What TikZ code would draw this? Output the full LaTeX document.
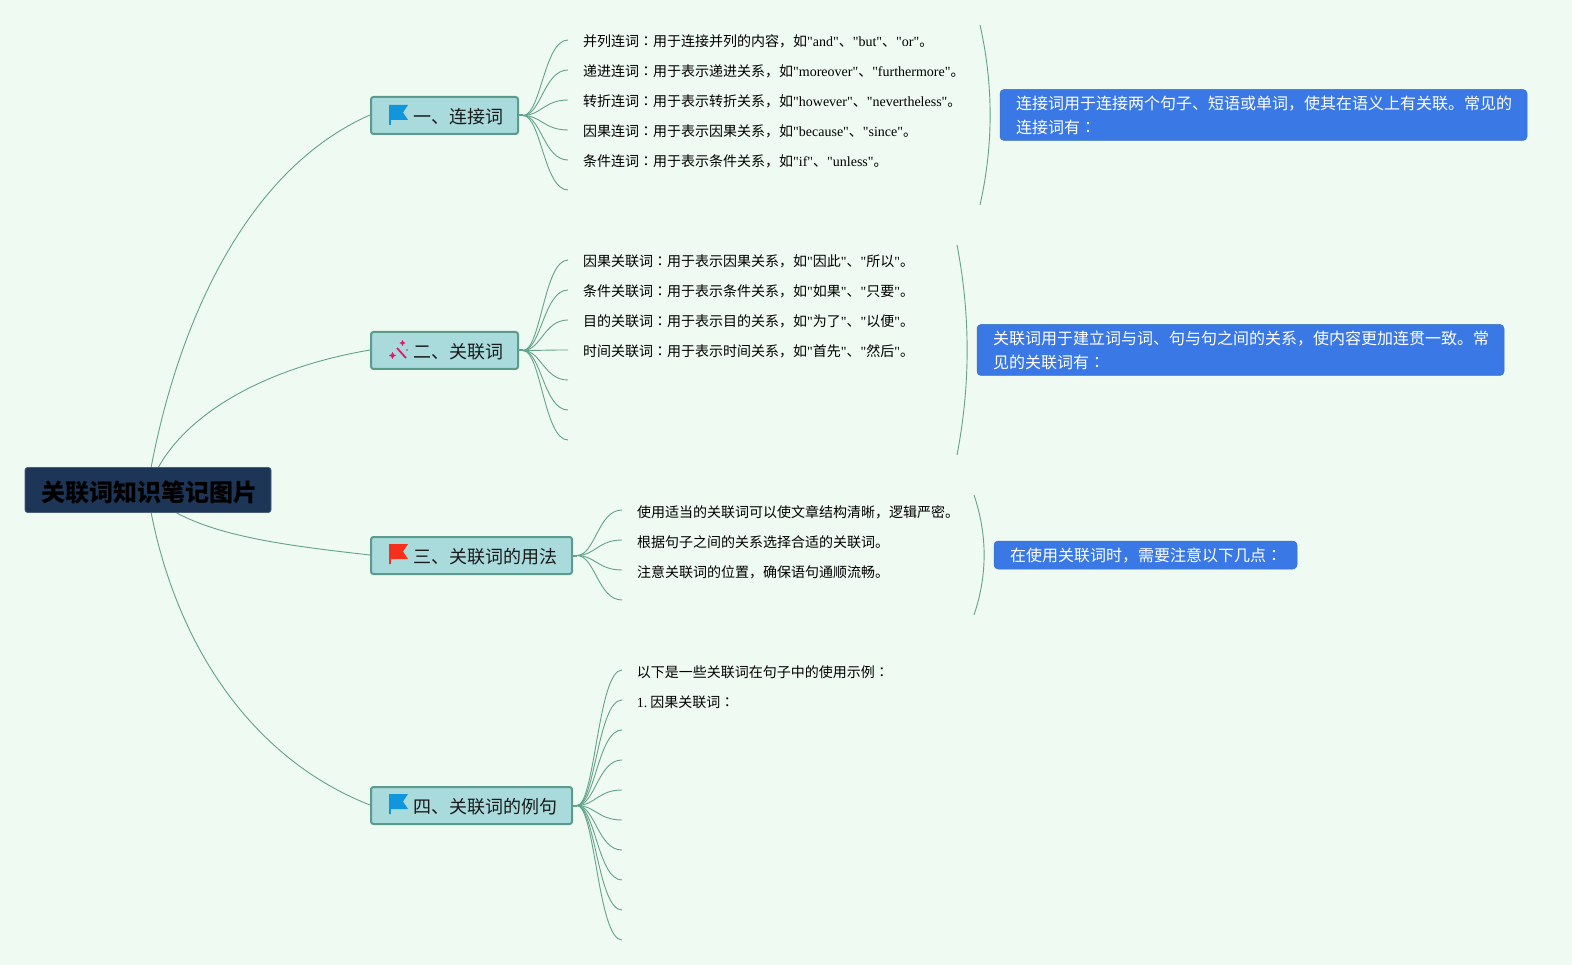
\documentclass[tikz,border=0pt]{standalone}
\usepackage{fontspec}
\setmainfont{Noto Sans CJK SC}
\newfontfamily\latf{Liberation Serif}
\newfontfamily\jpf{Noto Sans CJK JP}
\newcommand{\lat}[1]{{\latf #1}}
\newcommand{\cln}{{\jpf ：}}
\newcommand{\dn}[2]{\raisebox{-#1pt}[\height][\depth]{#2}}
\usetikzlibrary{calc}
\definecolor{bgc}{HTML}{EFFAF2}
\definecolor{linkc}{HTML}{64A28B}
\definecolor{topicf}{HTML}{A9DBDC}
\definecolor{topicd}{HTML}{5B9B8B}
\definecolor{rootf}{HTML}{1D3557}
\definecolor{callf}{HTML}{3A78E6}
\definecolor{flagb}{HTML}{1296DB}
\definecolor{flagr}{HTML}{F5301C}
\definecolor{wand}{HTML}{D81E6A}
\tikzset{
  x=1pt,y=-1pt,
  link/.style={draw=linkc,line width=.9pt},
  hubline/.style={draw=linkc,line width=2pt},
  rootbox/.style={fill=rootf,draw=rootf!80!white,line width=.6pt,rounded corners=2.5pt,minimum width=246pt,minimum height=45pt,inner sep=0pt,outer sep=0pt,font=\fontsize{24}{28}\selectfont\bfseries,text=black},
  topicbox/.style={fill=topicf,draw=topicd,line width=2pt,rounded corners=2.5pt,minimum height=37pt,inner xsep=15pt,inner ysep=0pt,outer sep=0pt,align=right,font=\fontsize{18}{22}\selectfont,text=black!90},
  leaf/.style={anchor=west,inner sep=0pt,font=\fontsize{14}{18}\selectfont,text=black},
  callout/.style={fill=callf,draw=callf!85!black!80!topicd,line width=.5pt,rounded corners=4pt,inner xsep=16pt,inner ysep=0pt,outer sep=0pt,align=left,text=white,font=\fontsize{16}{24}\selectfont},
}
\newcommand{\branch}[2]{\draw[link] (#1) .. controls ($(#1)+(18,0)$) and ($(#2)+(-24,0)$) .. (#2);}
\newcommand{\flag}[3]{\fill[#1] (#2,#3) -- ++(19,0) -- ++(-5,7.5) -- ++(5,7.5) -- ++(-17.2,0) -- ++(0,5) -- ++(-1.8,0) -- cycle;}
\newcommand{\spark}[3]{\fill[wand] (#1,#2-#3) -- (#1+.35*#3,#2-.35*#3) -- (#1+#3,#2) -- (#1+.35*#3,#2+.35*#3) -- (#1,#2+#3) -- (#1-.35*#3,#2+.35*#3) -- (#1-#3,#2) -- (#1-.35*#3,#2-.35*#3) -- cycle;}
\begin{document}
\begin{tikzpicture}
\fill[bgc] (0,0) rectangle (1572,965);
\useasboundingbox (0,0) rectangle (1572,965);

\coordinate (ra) at (151,468);
\coordinate (rb) at (158,468);
\coordinate (rc) at (175,512);
\coordinate (rd) at (151,512);

\draw[link] (ra) .. controls (178,325) and (245,170) .. (370,115);
\draw[link] (rb) .. controls (190,410) and (270,367) .. (370,350);
\draw[link] (rc) .. controls (220,537) and (290,546) .. (370,555);
\draw[link] (rd) .. controls (178,650) and (255,760) .. (370,805);

\node[rootbox] (root) at (148,490) {\hspace*{3pt}\dn{2.5}{关联词知识笔记图片}};

\node[topicbox,text width=117pt] (t1) at (444.5,115.5) {\dn{.8}{一、连接词}};
\node[topicbox,text width=117pt] (t2) at (444.5,350.5) {\dn{.8}{二、关联词}};
\node[topicbox,text width=171pt] (t3) at (471.5,555.5) {\dn{.8}{三、关联词的用法}};
\node[topicbox,text width=171pt] (t4) at (471.5,805.5) {\dn{.8}{四、关联词的例句}};

% icons
\flag{flagb}{389}{105}
\flag{flagr}{389}{544}
\flag{flagb}{389}{794}
\draw[wand,line width=1.8pt] (397,348) -- (406,358);
\spark{402.5}{343}{3}
\spark{392.5}{355.5}{3.5}
\fill[wand] (407,350) circle (.9pt);

% hubs
\coordinate (h1) at (523,115.5);
\coordinate (h2) at (523,350.5);
\coordinate (h3) at (577,555.5);
\coordinate (h4) at (577,805.5);
\foreach \n/\t in {h1/t1,h2/t2,h3/t3,h4/t4}{\draw[hubline] (\t.east) -- (\n);}

% section 1
\foreach \i/\y in {1/40,2/70,3/100,4/130,5/160,6/190}{
  \coordinate (a\i) at (568,\y);
  \branch{h1}{a\i}
}
\node[leaf] (a1t) at (583,41.7) {并列连词\cln 用于连接并列的内容，如\lat{"and"}、\lat{"but"}、\lat{"or"}。};
\node[leaf] (a2t) at (583,71.7) {递进连词\cln 用于表示递进关系，如\lat{"moreover"}、\lat{"furthermore"}。};
\node[leaf] (a3t) at (583,101.7) {转折连词\cln 用于表示转折关系，如\lat{"however"}、\lat{"nevertheless"}。};
\node[leaf] (a4t) at (583,131.7) {因果连词\cln 用于表示因果关系，如\lat{"because"}、\lat{"since"}。};
\node[leaf] (a5t) at (583,161.7) {条件连词\cln 用于表示条件关系，如\lat{"if"}、\lat{"unless"}。};

% section 2
\foreach \i/\y in {1/260,2/290,3/320,4/350,5/380,6/410,7/440}{
  \coordinate (b\i) at (568,\y);
  \branch{h2}{b\i}
}
\node[leaf] (b1t) at (583,261.7) {因果关联词\cln 用于表示因果关系，如\lat{"}因此\lat{"}、\lat{"}所以\lat{"}。};
\node[leaf] (b2t) at (583,291.7) {条件关联词\cln 用于表示条件关系，如\lat{"}如果\lat{"}、\lat{"}只要\lat{"}。};
\node[leaf] (b3t) at (583,321.7) {目的关联词\cln 用于表示目的关系，如\lat{"}为了\lat{"}、\lat{"}以便\lat{"}。};
\node[leaf] (b4t) at (583,351.7) {时间关联词\cln 用于表示时间关系，如\lat{"}首先\lat{"}、\lat{"}然后\lat{"}。};

% section 3
\foreach \i/\y in {1/510,2/540,3/570,4/600}{
  \coordinate (c\i) at (622,\y);
  \branch{h3}{c\i}
}
\node[leaf] (c1t) at (637,512.2) {使用适当的关联词可以使文章结构清晰，逻辑严密。};
\node[leaf] (c2t) at (637,542.2) {根据句子之间的关系选择合适的关联词。};
\node[leaf] (c3t) at (637,572.2) {注意关联词的位置，确保语句通顺流畅。};

% section 4
\foreach \i/\y in {1/670,2/700,3/730,4/760,5/790,6/820,7/850,8/880,9/910,10/940}{
  \coordinate (d\i) at (622,\y);
  \branch{h4}{d\i}
}
\node[leaf] (d1t) at (636.6,672.2) {以下是一些关联词在句子中的使用示例\cln};
\node[leaf] (d2t) at (636.6,702.2) {\lat{1.}\hspace{3pt}因果关联词\cln};

% braces
\coordinate (s1a) at (980,25);  \coordinate (s1b) at (980,205);
\coordinate (s2a) at (957,245); \coordinate (s2b) at (957,455);
\coordinate (s3a) at (974,495); \coordinate (s3b) at (974,615);
\draw[link] (s1a) .. controls (993.5,85) and (993.5,145) .. (s1b);
\draw[link] (s2a) .. controls (970.5,315) and (970.5,385) .. (s2b);
\draw[link] (s3a) .. controls (987.5,535) and (987.5,575) .. (s3b);

% callouts
\node[callout,text width=495pt,minimum height=51pt] (k1) at (1263.5,115) {连接词用于连接两个句子、短语或单词，使其在语义上有关联。常见的\\连接词有\cln};
\node[callout,text width=495pt,minimum height=51pt] (k2) at (1240.5,350) {关联词用于建立词与词、句与句之间的关系，使内容更加连贯一致。常\\见的关联词有\cln};
\node[callout,text width=271pt,minimum height=28pt] (k3) at (1145.5,555) {\dn{1}{在使用关联词时，需要注意以下几点\cln}};
\end{tikzpicture}
\end{document}
